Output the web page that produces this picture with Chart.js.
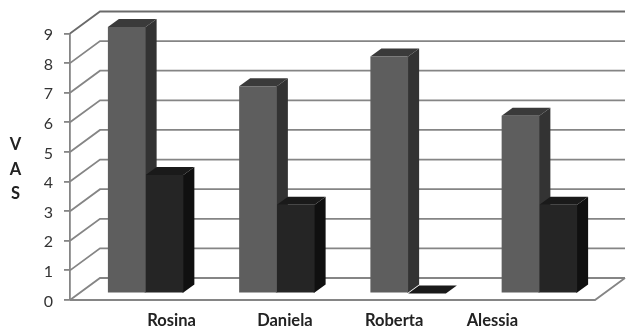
<!DOCTYPE html>
<html>
<head>
<meta charset="utf-8">
<title>VAS</title>
<script src="https://cdn.jsdelivr.net/npm/chart.js@4"></script>
<style>
  body { margin: 0; background: #fff; }
  canvas { display: block; }
</style>
</head>
<body>
<canvas id="vasChart" width="626" height="329"></canvas>
<script>
const names = ['Rosina', 'Daniela', 'Roberta', 'Alessia'];
const firstSeries = [9, 7, 8, 6];
const secondSeries = [4, 3, 0, 3];
const yTicks = [0, 1, 2, 3, 4, 5, 6, 7, 8, 9];
const axisLetters = ['V', 'A', 'S'];

// label centres are not evenly spaced, so each one gets its own nudge
const nameNudge = [36, 18, -4, -37];

// box depth of the bars and of the back wall
const wallDepth = { x: 30, y: 22 };
const barShift = { x: 10, y: -6.5 };
const barDepth = { x: 11, y: 8 };

const faceColours = [
  { side: '#333333', top: '#3a3a3a' },
  { side: '#101010', top: '#1a1a1a' }
];

function fillPoly(ctx, pts, colour) {
  ctx.fillStyle = colour;
  ctx.beginPath();
  pts.forEach((p, i) => (i ? ctx.lineTo(p[0], p[1]) : ctx.moveTo(p[0], p[1])));
  ctx.closePath();
  ctx.fill();
}

// gridlines on the back wall, the diagonals and the floor
const wallPlugin = {
  id: 'wall',
  beforeDatasetsDraw(chart) {
    const { ctx, chartArea: area, scales: { y } } = chart;
    ctx.save();
    ctx.lineWidth = 1.8;
    yTicks.forEach(v => {
      const py = y.getPixelForValue(v);
      ctx.strokeStyle = v === 9 ? '#6a6a6a' : '#858585';
      ctx.beginPath();
      ctx.moveTo(area.left, py);
      ctx.lineTo(area.left + wallDepth.x, py - wallDepth.y);
      ctx.lineTo(area.right + wallDepth.x, py - wallDepth.y);
      ctx.stroke();
    });
    // front edge of the floor
    const py0 = y.getPixelForValue(0);
    ctx.strokeStyle = '#858585';
    ctx.beginPath();
    ctx.moveTo(area.left, py0);
    ctx.lineTo(area.right, py0);
    ctx.lineTo(area.right + wallDepth.x, py0 - wallDepth.y);
    ctx.stroke();
    ctx.restore();

    // side and top faces go down first, the library draws the fronts over them
    // (each face runs 1px under the front so no seam shows)
    [0, 1].forEach(d => {
      chart.getDatasetMeta(d).data.forEach(bar => {
        const l = bar.x - bar.width / 2 + barShift.x;
        const r = bar.x + bar.width / 2 + barShift.x;
        const t = bar.y + barShift.y;
        const b = bar.base + barShift.y;
        const dx = barDepth.x, dy = barDepth.y;
        if (b > t) {
          fillPoly(ctx, [[r - 1, t], [r, t], [r + dx, t - dy], [r + dx, b - dy], [r, b], [r - 1, b]], faceColours[d].side);
        }
        fillPoly(ctx, [[l, t], [l + dx, t - dy], [r + dx, t - dy], [r, t]], faceColours[d].top);
      });
    });
  },
  beforeDatasetDraw(chart) {
    chart.ctx.save();
    chart.ctx.translate(barShift.x, barShift.y);
  },
  afterDatasetDraw(chart) {
    chart.ctx.restore();
  },
  afterDraw(chart) {
    const { ctx, scales: { x } } = chart;
    ctx.save();
    ctx.fillStyle = '#222222';
    ctx.font = 'bold 16.5px Lato';
    ctx.textAlign = 'center';
    ctx.textBaseline = 'middle';
    names.forEach((n, i) => ctx.fillText(n, x.getPixelForValue(i) + nameNudge[i], 320.5));
    axisLetters.forEach((c, i) => ctx.fillText(c, 15.5, 145 + i * 24.5));
    ctx.restore();
  }
};

new Chart(document.getElementById('vasChart').getContext('2d'), {
  type: 'bar',
  data: {
    labels: names,
    datasets: [
      { data: firstSeries, backgroundColor: '#5e5e5e', clip: false },
      { data: secondSeries, backgroundColor: '#252525', clip: false }
    ]
  },
  options: {
    responsive: false,
    animation: false,
    layout: { padding: { left: 0, right: 31, top: 33.5, bottom: 29 } },
    categoryPercentage: 0.575,
    barPercentage: 1,
    plugins: { legend: { display: false }, tooltip: { enabled: false } },
    scales: {
      x: {
        afterFit(scale) { scale.height = 0; },
        ticks: { display: false },
        grid: { display: false },
        border: { display: false }
      },
      y: {
        min: 0,
        max: 9,
        afterFit(scale) { scale.width = 70; },
        afterBuildTicks(scale) { scale.ticks = yTicks.map(v => ({ value: v })); },
        ticks: { color: '#333333', font: { family: 'Lato', size: 16 }, padding: 11, labelOffset: 1.5 },
        grid: { drawOnChartArea: false, color: '#858585', tickLength: 6, lineWidth: 1.8 },
        border: { color: '#858585', width: 1.8 }
      }
    }
  },
  plugins: [wallPlugin]
});
</script>
</body>
</html>
